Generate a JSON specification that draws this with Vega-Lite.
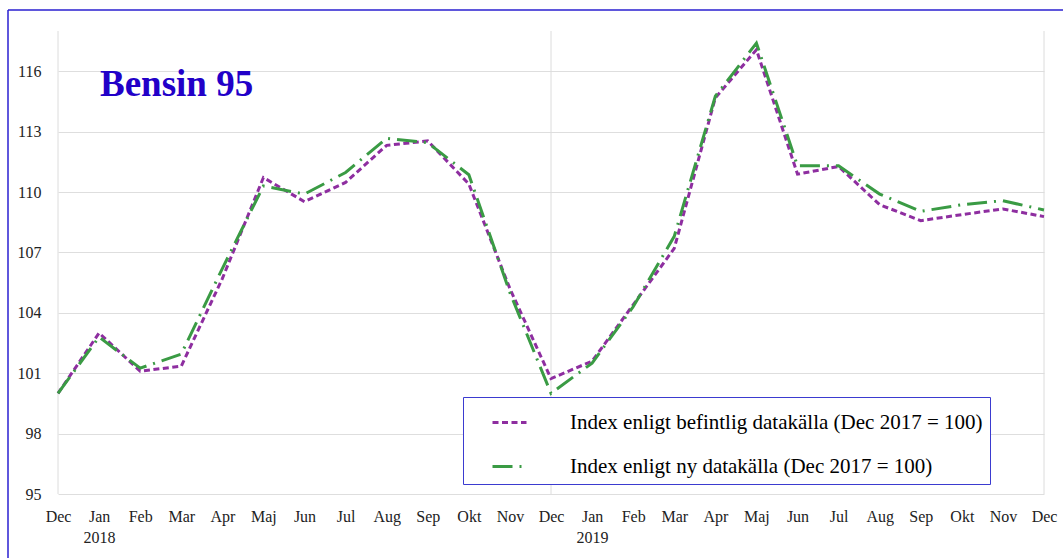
{
  "$schema": "https://vega.github.io/schema/vega-lite/v6.json",
  "width": 986,
  "height": 463,
  "autosize": {"type": "none"},
  "padding": {"left": 58, "top": 31, "right": 19, "bottom": 64},
  "background": "white",
  "config": {
    "font": "Liberation Serif",
    "view": {"stroke": null},
    "legend": {
      "title": null,
      "orient": "none",
      "legendX": 405,
      "legendY": 366,
      "strokeColor": "#3b3bd0",
      "fillColor": "white",
      "padding": 7,
      "symbolType": "stroke",
      "symbolSize": 1156,
      "symbolStrokeWidth": 3,
      "symbolOffset": 21,
      "labelOffset": 42,
      "labelFontSize": 21,
      "labelFont": "Liberation Serif",
      "labelColor": "black",
      "rowPadding": 15,
      "labelLimit": 0
    }
  },
  "datasets": {
    "series": [
      {"t": 0, "month": "2017-12", "serie": "Index enligt befintlig datakälla (Dec 2017 = 100)", "value": 100},
      {"t": 1, "month": "2018-01", "serie": "Index enligt befintlig datakälla (Dec 2017 = 100)", "value": 103.0},
      {"t": 2, "month": "2018-02", "serie": "Index enligt befintlig datakälla (Dec 2017 = 100)", "value": 101.1},
      {"t": 3, "month": "2018-03", "serie": "Index enligt befintlig datakälla (Dec 2017 = 100)", "value": 101.35},
      {"t": 4, "month": "2018-04", "serie": "Index enligt befintlig datakälla (Dec 2017 = 100)", "value": 105.7},
      {"t": 5, "month": "2018-05", "serie": "Index enligt befintlig datakälla (Dec 2017 = 100)", "value": 110.72},
      {"t": 6, "month": "2018-06", "serie": "Index enligt befintlig datakälla (Dec 2017 = 100)", "value": 109.52},
      {"t": 7, "month": "2018-07", "serie": "Index enligt befintlig datakälla (Dec 2017 = 100)", "value": 110.48},
      {"t": 8, "month": "2018-08", "serie": "Index enligt befintlig datakälla (Dec 2017 = 100)", "value": 112.32},
      {"t": 9, "month": "2018-09", "serie": "Index enligt befintlig datakälla (Dec 2017 = 100)", "value": 112.54},
      {"t": 10, "month": "2018-10", "serie": "Index enligt befintlig datakälla (Dec 2017 = 100)", "value": 110.4},
      {"t": 11, "month": "2018-11", "serie": "Index enligt befintlig datakälla (Dec 2017 = 100)", "value": 105.2},
      {"t": 12, "month": "2018-12", "serie": "Index enligt befintlig datakälla (Dec 2017 = 100)", "value": 100.73},
      {"t": 13, "month": "2019-01", "serie": "Index enligt befintlig datakälla (Dec 2017 = 100)", "value": 101.6},
      {"t": 14, "month": "2019-02", "serie": "Index enligt befintlig datakälla (Dec 2017 = 100)", "value": 104.4},
      {"t": 15, "month": "2019-03", "serie": "Index enligt befintlig datakälla (Dec 2017 = 100)", "value": 107.2},
      {"t": 16, "month": "2019-04", "serie": "Index enligt befintlig datakälla (Dec 2017 = 100)", "value": 114.68},
      {"t": 17, "month": "2019-05", "serie": "Index enligt befintlig datakälla (Dec 2017 = 100)", "value": 117.07},
      {"t": 18, "month": "2019-06", "serie": "Index enligt befintlig datakälla (Dec 2017 = 100)", "value": 110.89},
      {"t": 19, "month": "2019-07", "serie": "Index enligt befintlig datakälla (Dec 2017 = 100)", "value": 111.27},
      {"t": 20, "month": "2019-08", "serie": "Index enligt befintlig datakälla (Dec 2017 = 100)", "value": 109.37},
      {"t": 21, "month": "2019-09", "serie": "Index enligt befintlig datakälla (Dec 2017 = 100)", "value": 108.58},
      {"t": 22, "month": "2019-10", "serie": "Index enligt befintlig datakälla (Dec 2017 = 100)", "value": 108.88},
      {"t": 23, "month": "2019-11", "serie": "Index enligt befintlig datakälla (Dec 2017 = 100)", "value": 109.16},
      {"t": 24, "month": "2019-12", "serie": "Index enligt befintlig datakälla (Dec 2017 = 100)", "value": 108.78},
      {"t": 0, "month": "2017-12", "serie": "Index enligt ny datakälla (Dec 2017 = 100)", "value": 100},
      {"t": 1, "month": "2018-01", "serie": "Index enligt ny datakälla (Dec 2017 = 100)", "value": 102.8},
      {"t": 2, "month": "2018-02", "serie": "Index enligt ny datakälla (Dec 2017 = 100)", "value": 101.25},
      {"t": 3, "month": "2018-03", "serie": "Index enligt ny datakälla (Dec 2017 = 100)", "value": 101.95},
      {"t": 4, "month": "2018-04", "serie": "Index enligt ny datakälla (Dec 2017 = 100)", "value": 106.2},
      {"t": 5, "month": "2018-05", "serie": "Index enligt ny datakälla (Dec 2017 = 100)", "value": 110.3},
      {"t": 6, "month": "2018-06", "serie": "Index enligt ny datakälla (Dec 2017 = 100)", "value": 109.9},
      {"t": 7, "month": "2018-07", "serie": "Index enligt ny datakälla (Dec 2017 = 100)", "value": 110.97},
      {"t": 8, "month": "2018-08", "serie": "Index enligt ny datakälla (Dec 2017 = 100)", "value": 112.67},
      {"t": 9, "month": "2018-09", "serie": "Index enligt ny datakälla (Dec 2017 = 100)", "value": 112.45},
      {"t": 10, "month": "2018-10", "serie": "Index enligt ny datakälla (Dec 2017 = 100)", "value": 110.86},
      {"t": 11, "month": "2018-11", "serie": "Index enligt ny datakälla (Dec 2017 = 100)", "value": 105.0},
      {"t": 12, "month": "2018-12", "serie": "Index enligt ny datakälla (Dec 2017 = 100)", "value": 100.0},
      {"t": 13, "month": "2019-01", "serie": "Index enligt ny datakälla (Dec 2017 = 100)", "value": 101.5},
      {"t": 14, "month": "2019-02", "serie": "Index enligt ny datakälla (Dec 2017 = 100)", "value": 104.3},
      {"t": 15, "month": "2019-03", "serie": "Index enligt ny datakälla (Dec 2017 = 100)", "value": 107.8},
      {"t": 16, "month": "2019-04", "serie": "Index enligt ny datakälla (Dec 2017 = 100)", "value": 114.76},
      {"t": 17, "month": "2019-05", "serie": "Index enligt ny datakälla (Dec 2017 = 100)", "value": 117.4},
      {"t": 18, "month": "2019-06", "serie": "Index enligt ny datakälla (Dec 2017 = 100)", "value": 111.3},
      {"t": 19, "month": "2019-07", "serie": "Index enligt ny datakälla (Dec 2017 = 100)", "value": 111.3},
      {"t": 20, "month": "2019-08", "serie": "Index enligt ny datakälla (Dec 2017 = 100)", "value": 109.9},
      {"t": 21, "month": "2019-09", "serie": "Index enligt ny datakälla (Dec 2017 = 100)", "value": 109.04},
      {"t": 22, "month": "2019-10", "serie": "Index enligt ny datakälla (Dec 2017 = 100)", "value": 109.37},
      {"t": 23, "month": "2019-11", "serie": "Index enligt ny datakälla (Dec 2017 = 100)", "value": 109.57},
      {"t": 24, "month": "2019-12", "serie": "Index enligt ny datakälla (Dec 2017 = 100)", "value": 109.11}
    ],
    "yearlines": [{"t": 0}, {"t": 12}, {"t": 24}],
    "titletext": [{"label": "Bensin 95"}]
  },
  "layer": [
    {
      "data": {"name": "yearlines"},
      "mark": {"type": "rule", "color": "#dcdcdc", "strokeWidth": 1},
      "encoding": {
        "x": {"field": "t", "type": "quantitative", "scale": {"domain": [0, 24], "nice": false, "zero": false}}
      }
    },
    {
      "data": {"name": "series"},
      "mark": {"type": "line", "strokeWidth": 3},
      "encoding": {
        "x": {
          "field": "t",
          "type": "quantitative",
          "scale": {"domain": [0, 24], "nice": false, "zero": false},
          "axis": {
            "title": null,
            "values": [0,1,2,3,4,5,6,7,8,9,10,11,12,13,14,15,16,17,18,19,20,21,22,23,24],
            "grid": false,
            "domain": false,
            "ticks": false,
            "labelPadding": 14,
            "labelFontSize": 16,
            "labelLineHeight": 21,
            "labelColor": "#222222",
            "labelFont": "Liberation Serif",
            "labelFlush": false,
            "labelOverlap": false,
            "labelExpr": "datum.value == 1 ? ['Jan', '2018'] : datum.value == 13 ? ['Jan', '2019'] : ['Dec','Jan','Feb','Mar','Apr','Maj','Jun','Jul','Aug','Sep','Okt','Nov'][datum.value % 12]"
          }
        },
        "y": {
          "field": "value",
          "type": "quantitative",
          "scale": {"domain": [95, 118], "nice": false, "zero": false},
          "axis": {
            "title": null,
            "values": [95, 98, 101, 104, 107, 110, 113, 116],
            "domain": false,
            "ticks": false,
            "labelPadding": 17,
            "labelFontSize": 16,
            "labelColor": "#222222",
            "labelFont": "Liberation Serif",
            "gridColor": "#dedede",
            "gridWidth": 1
          }
        },
        "color": {
          "field": "serie",
          "type": "nominal",
          "scale": {
            "domain": ["Index enligt befintlig datakälla (Dec 2017 = 100)", "Index enligt ny datakälla (Dec 2017 = 100)"],
            "range": ["#8e2ea0", "#3a9b44"]
          }
        },
        "strokeDash": {
          "field": "serie",
          "type": "nominal",
          "scale": {
            "domain": ["Index enligt befintlig datakälla (Dec 2017 = 100)", "Index enligt ny datakälla (Dec 2017 = 100)"],
            "range": [[6, 3.5], [20, 7, 2, 7]]
          }
        }
      }
    },
    {
      "data": {"name": "titletext"},
      "mark": {"type": "text", "font": "Liberation Serif", "fontSize": 37, "fontWeight": "bold", "color": "#2200c8", "align": "left", "baseline": "alphabetic"},
      "encoding": {
        "text": {"field": "label"},
        "x": {"datum": 1.022, "type": "quantitative", "scale": {"domain": [0, 24], "nice": false, "zero": false}},
        "y": {"datum": 114.77, "type": "quantitative", "scale": {"domain": [95, 118], "nice": false, "zero": false}}
      }
    },
    {
      "data": {"values": [{"frame": "left"}]},
      "mark": {"type": "rule", "color": "#2a1fd0", "strokeWidth": 1.5},
      "encoding": {
        "x": {"datum": -1.217, "type": "quantitative", "scale": {"domain": [0, 24], "nice": false, "zero": false}},
        "y": {"datum": 119.04, "type": "quantitative", "scale": {"domain": [95, 118], "nice": false, "zero": false}},
        "y2": {"datum": 91.5}
      }
    },
    {
      "data": {"values": [{"frame": "top"}]},
      "mark": {"type": "rule", "color": "#2a1fd0", "strokeWidth": 1.5},
      "encoding": {
        "x": {"datum": -1.217, "type": "quantitative", "scale": {"domain": [0, 24], "nice": false, "zero": false}},
        "x2": {"datum": 24.7},
        "y": {"datum": 119.04, "type": "quantitative", "scale": {"domain": [95, 118], "nice": false, "zero": false}}
      }
    }
  ]
}
